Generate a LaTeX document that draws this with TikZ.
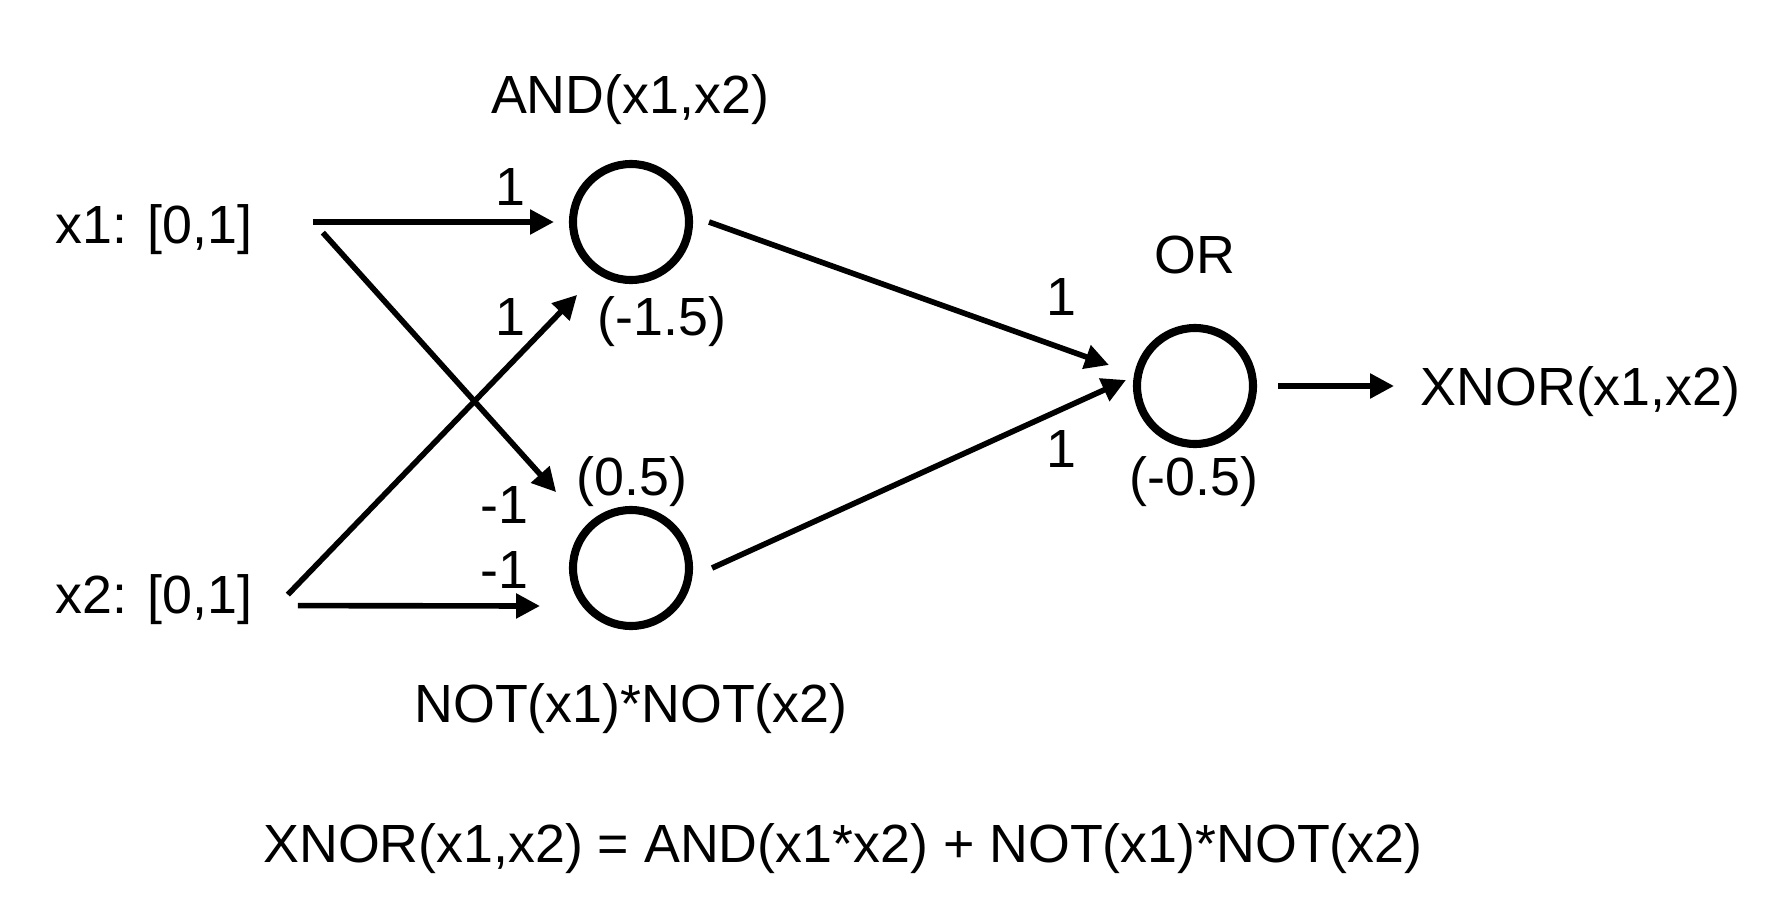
\documentclass[tikz,border=0pt]{standalone}
\usepackage{fontspec}
\setmainfont{Liberation Sans}
\usetikzlibrary{positioning}
\usetikzlibrary{arrows.meta}
\tikzset{line/.style={draw, line width=1.6pt, -{Triangle[length=6.8pt,width=6.8pt]}}}

\begin{document}
\begin{tikzpicture}[font=\fontsize{15.3}{18}\selectfont]
\tikzstyle{neuron} = [circle, draw, line width=2.3pt, minimum size=1.16cm, inner sep=0pt]
\tikzstyle{txt} = [inner sep=0pt, anchor=base]

\useasboundingbox (0,0) rectangle (17.66,9.14);
% neurons
    \node [neuron] (and) at (6.31,6.92) {};
    \node [neuron] (not) at (6.31,3.46) {};
    \node [neuron] (or) at (11.95,5.28) {};
% labels
    \node [txt] (x1) at (1.54,6.71) {x1: [0,1]};
    \node [txt] (x2) at (1.54,3.01) {x2: [0,1]};
    \node [txt] (andlbl) at (6.30,8.01) {AND(x1,x2)};
    \node [txt] (notlbl) at (6.31,1.92) {NOT(x1)*NOT(x2)};
    \node [txt] (orlbl) at (11.95,6.41) {OR};
    \node [txt, anchor=base west] (xnor) at (14.20,5.09) {XNOR(x1,x2)};
    \node [txt] (formula) at (8.43,0.52) {XNOR(x1,x2) = AND(x1*x2) + NOT(x1)*NOT(x2)};
% biases
    \node [txt] (band) at (6.62,5.79) {(-1.5)};
    \node [txt] (bnot) at (6.32,4.19) {(0.5)};
    \node [txt] (bor) at (11.94,4.19) {(-0.5)};
% weights
    \node [txt] (w11) at (5.10,7.09) {1};
    \node [txt] (w21) at (5.10,5.79) {1};
    \node [txt] (w12) at (5.04,3.91) {-1};
    \node [txt] (w22) at (5.04,3.26) {-1};
    \node [txt] (wa) at (10.61,5.99) {1};
    \node [txt] (wn) at (10.61,4.47) {1};
% arrows
    \path [line, shorten <=0.6cm, shorten >=0.15cm] (x1.east |- and.west) -- (and.west);
    \path [line] ([shift={(0.7,-0.035)}]x1.east) -- ([shift={(-0.31,0.32)}]not.north west);
    \path [line] ([shift={(0.35,0.045)}]x2.east) -- ([shift={(-0.10,-0.29)}]and.south west);
    \path [line] ([shift={(0.45,-0.065)}]x2.east) -- ([shift={(-0.29,-0.38)}]not.west);
    \path [line] ([xshift=0.16cm]and.east) -- ([shift={(-0.24,0.21)}]or.west);
    \path [line] ([xshift=0.19cm]not.east) -- ([shift={(-0.07,0.06)}]or.west);
    \path [line, shorten <=0.21cm, shorten >=0.26cm] (or.east) -- (or.east -| xnor.west);
\end{tikzpicture}
\end{document}
